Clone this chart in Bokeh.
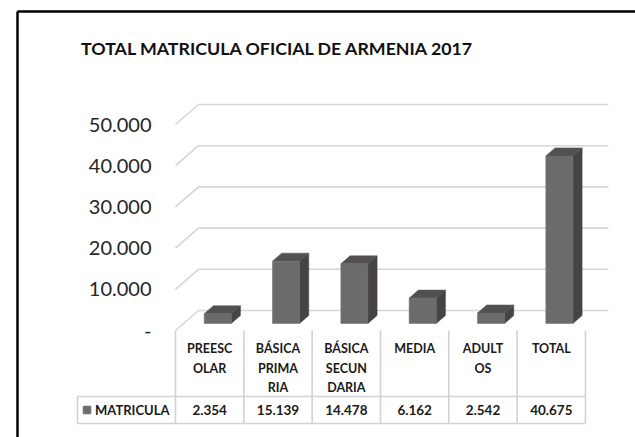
from bokeh.plotting import figure
from bokeh.models import Range1d
from bokeh.embed import file_html
from bokeh.resources import INLINE
from bokeh.core.properties import value

# ---------------- data ----------------
title_text = "TOTAL MATRICULA OFICIAL DE ARMENIA 2017"
categories = ["PREESCOLAR", "BÁSICA PRIMARIA", "BÁSICA SECUNDARIA", "MEDIA", "ADULTOS", "TOTAL"]
category_lines = [["PREESC", "OLAR"], ["BÁSICA", "PRIMA", "RIA"], ["BÁSICA", "SECUN", "DARIA"],
                  ["MEDIA"], ["ADULT", "OS"], ["TOTAL"]]
series_name = "MATRICULA"
matricula = [2354, 15139, 14478, 6162, 2542, 40675]
y_ticks = [0, 10000, 20000, 30000, 40000, 50000]
y_tick_labels = ["-", "10.000", "20.000", "30.000", "40.000", "50.000"]

# ---------------- layout (pixels) ----------------
W, H = 635, 437
CAT_PX = 68.33          # pixels per category column
X0_PX = 175.0           # left edge of front floor
Y0_PX = 330.0           # front zero line (from top)
VAL_PX = 206.0 / 50000  # pixels per unit value

def X(px):
    return (px - X0_PX) / CAT_PX

def Y(py):
    return (Y0_PX - py) / VAL_PX

DX = 23.0 / CAT_PX      # full depth shift in x
DY = 20.0 / VAL_PX      # full depth shift in y
D0, D1 = 0.35, 0.75     # bar depth span
HALF_W = 0.198

FONT = value("Lato")
GRID_C = "#d6d6d6"
TABLE_C = "#d2d2d2"
FRONT_C = "#6b6b6b"
SIDE_C = "#474343"
TOP_C = "#525050"
TEXT_C = "#1a1a1a"

p = figure(width=W, height=H, x_range=Range1d(X(0), X(W)), y_range=Range1d(Y(H), Y(0)),
           output_backend="svg", toolbar_location=None, min_border=0,
           x_axis_location=None, y_axis_location=None)
p.grid.visible = False
p.outline_line_color = None
p.background_fill_color = "white"
p.border_fill_color = "white"

n = len(categories)

# back-wall gridlines with depth diagonals
gx, gy = [], []
for t in y_ticks:
    gx.append([0, DX, n + DX])
    gy.append([t, t + DY, t + DY])
p.multi_line(gx, gy, line_color=GRID_C, line_width=1.6)

# 3D bars
fl, fr, fb, ft = [], [], [], []
sx, sy, tx, ty = [], [], [], []
ddx, ddy = (D1 - D0) * DX, (D1 - D0) * DY
for i, v in enumerate(matricula):
    c = i + 0.5
    left = c - HALF_W + D0 * DX
    right = c + HALF_W + D0 * DX
    bottom = D0 * DY
    top = v + D0 * DY
    fl.append(left); fr.append(right); fb.append(bottom); ft.append(top)
    sx.append([right, right + ddx, right + ddx, right])
    sy.append([bottom, bottom + ddy, top + ddy, top])
    tx.append([left, right, right + ddx, left + ddx])
    ty.append([top, top, top + ddy, top + ddy])
p.patches(sx, sy, fill_color=SIDE_C, line_color=SIDE_C, line_width=0.5)
p.patches(tx, ty, fill_color=TOP_C, line_color=TOP_C, line_width=0.5)
p.quad(left=fl, right=fr, bottom=fb, top=ft, fill_color=FRONT_C, line_color=FRONT_C, line_width=0.5)

# y tick labels (front plane)
p.text(x=[X(151)] * len(y_ticks), y=y_ticks, text=y_tick_labels, text_font=FONT,
       text_font_size="20px", text_color="#262626", text_align="right", text_baseline="middle")

# data table
table_left = X(77)
row_top = Y(396)
row_bot = Y(423)
vx = [[i, i] for i in range(n + 1)] + [[table_left, table_left]]
vy = [[0, row_bot] for _ in range(n + 1)] + [[row_top, row_bot]]
p.multi_line(vx, vy, line_color=TABLE_C, line_width=1.6)
p.multi_line([[table_left, n], [table_left, n]], [[row_top, row_top], [row_bot, row_bot]],
             line_color=TABLE_C, line_width=1.6)

lx, ly, lt = [], [], []
for i, lines in enumerate(category_lines):
    for j, s in enumerate(lines):
        lx.append(i + 0.5)
        ly.append(Y(348 + 19.5 * j))
        lt.append(s)
p.text(x=lx, y=ly, text=lt, text_font=FONT, text_font_size="12.5px", text_font_style="bold",
       text_color=TEXT_C, text_align="center", text_baseline="middle")

val_text = [f"{v:,}".replace(",", ".") for v in matricula]
p.text(x=[i + 0.5 for i in range(n)], y=[Y(409.5)] * n, text=val_text, text_font=FONT,
       text_font_size="13.5px", text_font_style="bold", text_color=TEXT_C,
       text_align="center", text_baseline="middle")

# legend key in table
p.scatter(x=[X(86.5)], y=[Y(409.5)], marker="square", size=7.5, fill_color=FRONT_C, line_color=FRONT_C)
p.text(x=[X(94.5)], y=[Y(409.5)], text=[series_name], text_font=FONT, text_font_size="13px",
       text_font_style="bold", text_color=TEXT_C, text_align="left", text_baseline="middle")

# title
p.text(x=[X(277.5)], y=[Y(47.5)], text=[title_text], text_font=FONT, text_font_size="17.8px",
       text_font_style="bold", text_color="#111111", text_align="center", text_baseline="middle")

# chart-area border (top and left visible)
p.multi_line([[X(17), X(W + 5)], [X(17), X(17)]], [[Y(11), Y(11)], [Y(11), Y(H + 5)]],
             line_color="black", line_width=2.5)

open("out.html", "w").write(file_html(p, INLINE))
